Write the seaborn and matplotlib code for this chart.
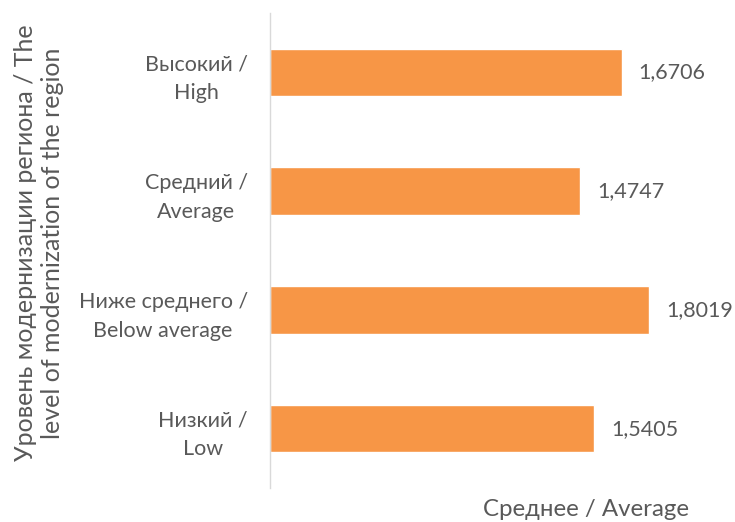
import matplotlib
matplotlib.use("Agg")
import matplotlib.pyplot as plt
import seaborn as sns
import pandas as pd

categories = ["Высокий /\nHigh", "Средний /\nAverage", "Ниже среднего /\nBelow average", "Низкий /\nLow"]
values = [1.6706, 1.4747, 1.8019, 1.5405]
value_labels = ["1,6706", "1,4747", "1,8019", "1,5405"]
x_title = "Среднее / Average"
y_title = "Уровень модернизации региона / The\nlevel of modernization of the region"

sns.set_theme(style="white")
plt.rcParams['font.family'] = ['Lato', 'DejaVu Sans']
TXT = "#595959"

df = pd.DataFrame({"cat": categories, "val": values})

fig = plt.figure(figsize=(7.35, 5.22), dpi=100)
ax = fig.add_axes([270/735, 1-488/522, 421/735, 475/522])
sns.barplot(data=df, y="cat", x="val", orient="h", color="#F79646", width=0.4,
            saturation=1, ax=ax)
ax.set_xlim(0, 2.0)
ax.set_xticks([])
ax.set_xlabel("")
ax.set_ylabel("")
for s in ["top", "right", "bottom"]:
    ax.spines[s].set_visible(False)
ax.spines["left"].set_color("#D9D9D9")
ax.spines["left"].set_linewidth(1.0)
ax.tick_params(axis="y", length=0, pad=16, labelsize=15.5, labelcolor=TXT)
for t in ax.get_yticklabels():
    t.set_multialignment("center")
    t.set_linespacing(1.55)

for i, (v, lab) in enumerate(zip(values, value_labels)):
    ax.annotate(lab, xy=(v, i), xytext=(12, 0), textcoords="offset points",
                ha="left", va="center", fontsize=15.5, color=TXT)

fig.text(586/735, 1-510/522, x_title, ha="center", va="center", fontsize=17.3, color=TXT)
fig.text(39/735, 1-243/522, y_title, ha="center", va="center", rotation=90,
         fontsize=18, color=TXT, multialignment="center", linespacing=1.25)

fig.savefig("out.png", dpi=100)
